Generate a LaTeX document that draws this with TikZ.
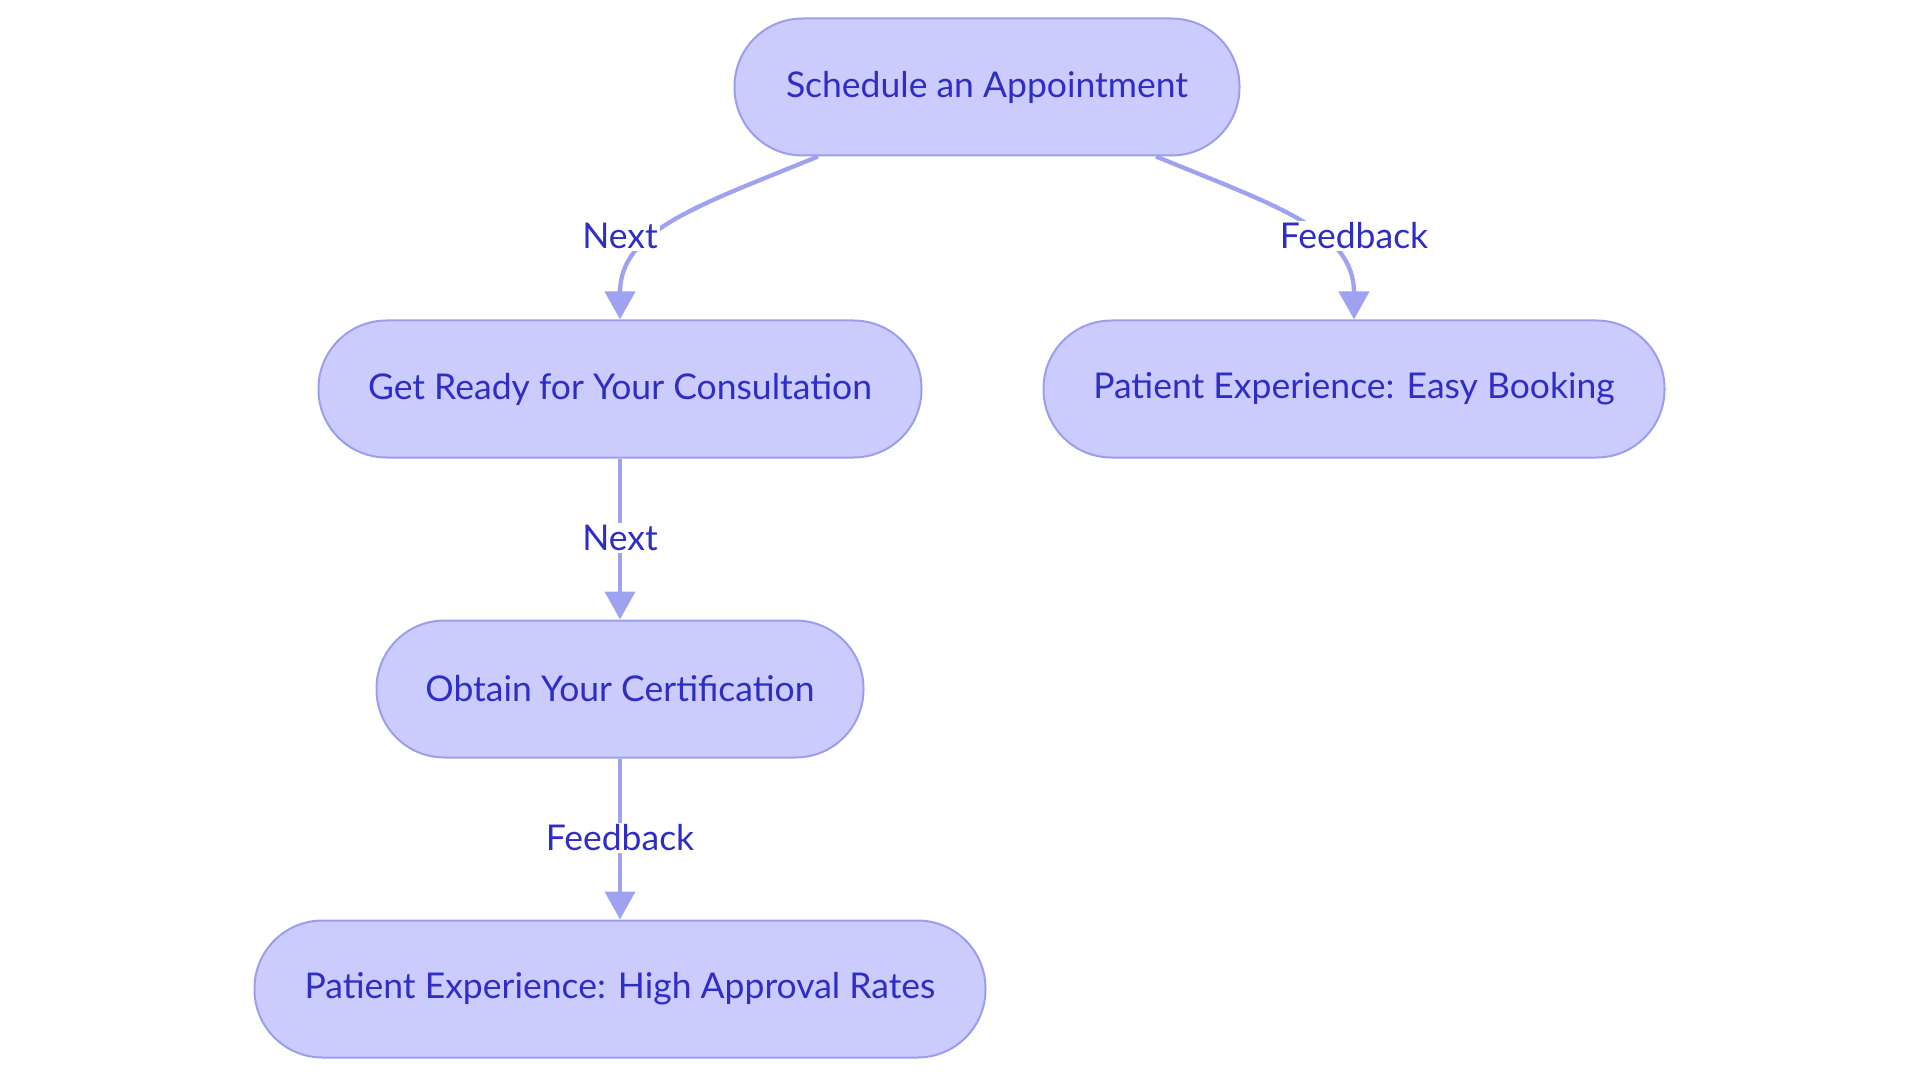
\documentclass[tikz,border=0pt]{standalone}
\usepackage{fontspec}
\setmainfont{Lato}
\usetikzlibrary{arrows.meta}
\definecolor{nodefill}{HTML}{CBCBFD}
\definecolor{nodeborder}{HTML}{9B9EEE}
\definecolor{txt}{HTML}{2E2EC6}
\definecolor{edgecol}{HTML}{9FA2F1}
\tikzset{
  box/.style={draw=nodeborder, line width=2pt, fill=nodefill, rounded corners=68pt,
    minimum height=137pt, inner sep=0pt, text=txt, font=\fontsize{35.5}{42}\selectfont},
  lbl/.style={fill=white, text=txt, inner sep=2pt, font=\fontsize{35.5}{42}\selectfont},
  conn/.style={draw=edgecol, line width=4.3pt, -{Triangle[length=28pt,width=30pt]}},
}
\begin{document}
\begin{tikzpicture}[x=1pt,y=-1pt]
\useasboundingbox (0,0) rectangle (1920,1083);
\node[box, minimum width=505pt] (sched) at (987,87) {Schedule an Appointment};
\node[box, minimum width=603pt] (ready) at (620,389) {Get Ready for Your Consultation};
\node[box, minimum width=621pt] (easy) at (1354,389) {Patient Experience: Easy Booking};
\node[box, minimum width=487pt] (obtain) at (620,689) {Obtain Your Certification};
\node[box, minimum width=731pt] (high) at (620,989) {Patient Experience: High Approval Rates};

\draw[conn] ([xshift=-169pt]sched.south) .. controls (700,205) and (620,230) .. (ready.north);
\draw[conn] ([xshift=169pt]sched.south) .. controls (1274,205) and (1354,230) .. (easy.north);
\draw[conn] (ready.south) -- (obtain.north);
\draw[conn] (obtain.south) -- (high.north);

\node[lbl] (l1) at (620,236) {Next};
\node[lbl] (l2) at (1354,236) {Feedback};
\node[lbl] (l3) at (620,538) {Next};
\node[lbl] (l4) at (620,838) {Feedback};
\end{tikzpicture}
\end{document}
